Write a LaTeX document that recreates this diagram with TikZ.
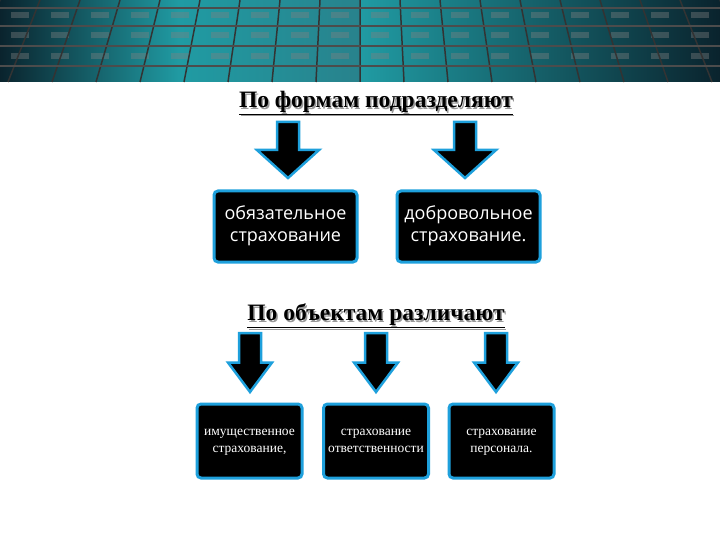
\documentclass[tikz,border=0pt]{standalone}
\usepackage{fontspec}
\setmainfont{Liberation Serif}
\newfontfamily\boxsans{Open Sans}
\definecolor{cyanb}{RGB}{30,160,220}
\definecolor{tealb}{RGB}{40,130,140}
\definecolor{darkb}{RGB}{10,35,45}
\newcommand{\bigarrow}[5]{% cx, ytop, ybottom, shaft half, head half
  \pgfmathsetmacro{\ymid}{#3+0.5*(#2-#3)}
  \draw[arrowsty] (#1-#4,#2) -- (#1+#4,#2) -- (#1+#4,\ymid) -- (#1+#5,\ymid) -- (#1,#3) -- (#1-#5,\ymid) -- (#1-#4,\ymid) -- cycle;}
\begin{document}
\begin{tikzpicture}[x=1pt,y=-1pt,
  arrowsty/.style={fill=black,draw=cyanb,line width=2.5pt,line join=miter},
  bigbox/.style={draw=cyanb,line width=3pt,fill=black,rounded corners=4pt,minimum width=143pt,minimum height=71pt,text=white,align=center,font=\boxsans\fontsize{18}{22}\selectfont},
  smallbox/.style={draw=cyanb,line width=3pt,fill=black,rounded corners=4pt,minimum width=105pt,minimum height=74pt,text=white,align=center,font=\fontsize{13.5}{17}\selectfont},
  title/.style={font=\bfseries\fontsize{23.5}{26}\selectfont,text=black}]
\useasboundingbox (0,0) rectangle (720,540);
\fill[white] (0,0) rectangle (720,540);
\shade[left color=darkb,right color=tealb,middle color=tealb!80!cyan] (0,0) rectangle (360,82);
\shade[left color=tealb!80!cyan,right color=darkb] (360,0) rectangle (720,82);
\foreach \x in {-20,20,...,740} \foreach \y in {15,35,56} \fill[black!50,opacity=0.4] (\x-9,\y-3) rectangle (\x+9,\y+3);
\foreach \x in {-40,0,...,760} \draw[black!80,line width=1.5pt] (\x,0) -- (360+1.1*\x-396,82);
\foreach \y in {8,26,46,66} \draw[black!70,line width=1.5pt] (0,\y) -- (720,\y);
\node[title,text=black!40,inner sep=1pt] at (377.5,104.5) {\underline{По формам подразделяют}};
\node[title,inner sep=1pt] (t1) at (376,103) {\underline{По формам подразделяют}};
\node[title,text=black!40,inner sep=1pt] at (377.5,317.5) {\underline{По объектам различают}};
\node[title,inner sep=1pt] (t2) at (376,316) {\underline{По объектам различают}};
\bigarrow{288}{122}{178}{11}{31}
\bigarrow{465}{122}{178}{11}{31}
\bigarrow{250}{333}{392}{11}{22}
\bigarrow{376}{333}{392}{11}{22}
\bigarrow{496}{333}{392}{11}{22}
\node[bigbox] (b1) at (285.5,226.5) {обязательное\strut\\страхование\strut};
\node[bigbox] (b2) at (468.5,226.5) {добровольное\strut\\страхование.\strut};
\node[smallbox] (c1) at (249.5,441) {имущественное\strut\\страхование,\strut};
\node[smallbox] (c2) at (376,441) {страхование\strut\\ответственности\strut};
\node[smallbox] (c3) at (501.5,441) {страхование\strut\\персонала.\strut};
\end{tikzpicture}
\end{document}
